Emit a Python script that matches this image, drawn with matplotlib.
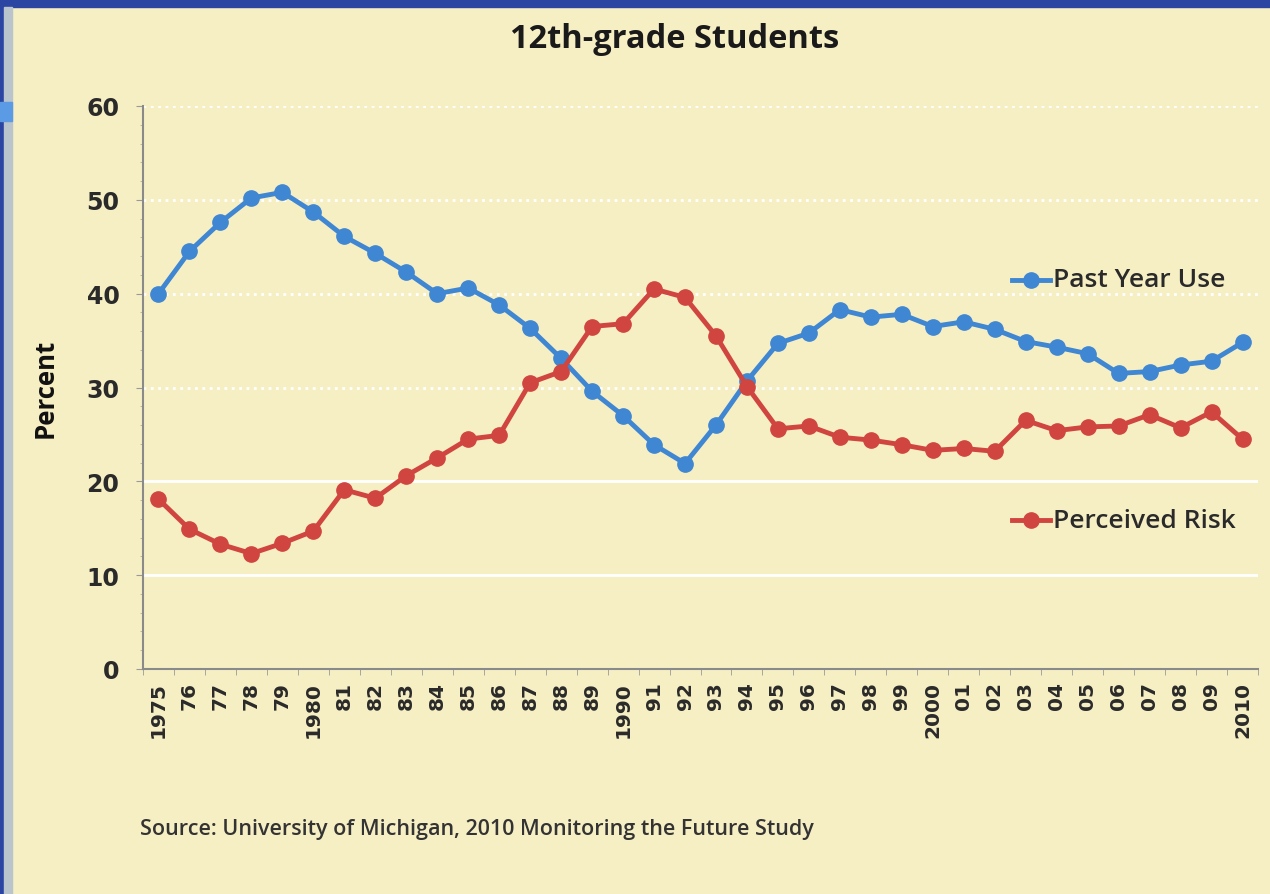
import numpy as np
import matplotlib
matplotlib.use("Agg")
import matplotlib.pyplot as plt
from matplotlib.patches import Rectangle
from matplotlib.lines import Line2D

# ---- data ----
years = list(range(1975, 2011))
year_labels = ['1975', '76', '77', '78', '79', '1980', '81', '82', '83', '84', '85', '86',
               '87', '88', '89', '1990', '91', '92', '93', '94', '95', '96', '97', '98',
               '99', '2000', '01', '02', '03', '04', '05', '06', '07', '08', '09', '2010']

past_year_use = [40.0, 44.5, 47.6, 50.2, 50.8, 48.7, 46.1, 44.3, 42.3, 40.0, 40.6, 38.8,
                 36.3, 33.1, 29.6, 27.0, 23.9, 21.9, 26.0, 30.7, 34.7, 35.8, 38.3, 37.5,
                 37.8, 36.5, 37.0, 36.2, 34.9, 34.3, 33.6, 31.5, 31.7, 32.4, 32.8, 34.8]

perceived_risk = [18.1, 14.9, 13.3, 12.3, 13.4, 14.7, 19.1, 18.2, 20.6, 22.5, 24.5, 24.9,
                  30.5, 31.7, 36.5, 36.8, 40.5, 39.6, 35.5, 30.1, 25.6, 25.9, 24.7, 24.4,
                  23.9, 23.3, 23.5, 23.2, 26.5, 25.4, 25.8, 25.9, 27.1, 25.7, 27.4, 24.5]

y_ticks = [0, 10, 20, 30, 40, 50, 60]

BG = '#f7efc4'
BLUE = '#3f86d3'
RED = '#d0453f'
TXT = '#2a2a2a'

plt.rcParams['font.family'] = ['Open Sans', 'DejaVu Sans']

fig = plt.figure(figsize=(12.7, 8.95), dpi=100)
fig.patch.set_facecolor(BG)

# slide frame bits (blue band on top, strip on the left)
fig.patches.append(Rectangle((0, 1 - 8 / 895), 1, 8 / 895, transform=fig.transFigure,
                             color='#2a46a2', zorder=5))
fig.patches.append(Rectangle((0, 0), 4 / 1270, 1, transform=fig.transFigure,
                             color='#2a46a2', zorder=5))
fig.patches.append(Rectangle((4 / 1270, 0), 8 / 1270, 1 - 8 / 895, transform=fig.transFigure,
                             color='#b9c4cc', zorder=5))
fig.patches.append(Rectangle((0, 1 - 122 / 895), 12 / 1270, 19 / 895, transform=fig.transFigure,
                             color='#5b9be6', zorder=6))

ax = fig.add_axes([143 / 1270, 1 - 670 / 895, (1258 - 143) / 1270, (670 - 107) / 895])
ax.set_facecolor(BG)

x = np.arange(len(years))

# grid: dotted for upper lines, solid for lower ones
for v in y_ticks[1:]:
    ls = '-' if v <= 20 else ':'
    ax.axhline(v, color='white', lw=2, ls=ls, zorder=1)

ax.plot(x, past_year_use, color=BLUE, lw=3.5, marker='o', ms=11, zorder=3)
ax.plot(x, perceived_risk, color=RED, lw=3.5, marker='o', ms=11, zorder=3)

ax.set_xlim(-0.4, len(years) - 0.5)
ax.set_ylim(0, 60)
ax.set_yticks(y_ticks)
ax.set_yticks(np.arange(0, 61, 2), minor=True)
ax.set_yticklabels([str(v) for v in y_ticks], fontsize=17, color=TXT,
                   family='DejaVu Sans', fontweight='bold')
ax.set_xticks(x)
ax.set_xticklabels(year_labels, rotation=90, fontsize=14.5, color=TXT, va='top',
                   family='DejaVu Sans', fontweight='bold')
ax.set_xticks(np.arange(-0.5, len(years), 1), minor=True)
ax.tick_params(axis='x', which='major', length=0, pad=9)
ax.tick_params(axis='x', which='minor', length=4, color='#999999')
ax.tick_params(axis='y', which='major', length=5, color='#999999', pad=12)
ax.tick_params(axis='y', which='minor', length=2, color='#aaaaaa')

for s in ['top', 'right']:
    ax.spines[s].set_visible(False)
for s in ['left', 'bottom']:
    ax.spines[s].set_color('#8a8a8a')
    ax.spines[s].set_linewidth(1.5)

ax.set_ylabel('Percent', fontsize=18.5, fontweight='bold', color='#111111', labelpad=20)

# legend entries drawn as labels beside the lines
for label, color, ypix in [('Past Year Use', BLUE, 281), ('Perceived Risk', RED, 521)]:
    yf = 1 - ypix / 895
    fig.add_artist(Line2D([1012 / 1270, 1050 / 1270], [yf, yf], color=color, lw=3.5,
                          transform=fig.transFigure))
    fig.add_artist(Line2D([1031 / 1270], [yf], color=color, marker='o', ms=11,
                          transform=fig.transFigure))
    fig.text(1053 / 1270, yf, label, fontsize=19, color=TXT, va='center', ha='left',
             fontweight='semibold')

fig.text(675 / 1270, 1 - 40 / 895, '12th-grade Students', fontsize=23.5, fontweight='bold',
         color='#1a1a1a', ha='center', va='center')
fig.text(140 / 1270, 1 - 830 / 895, 'Source: University of Michigan, 2010 Monitoring the Future Study',
         fontsize=15.5, color='#333333', ha='left', va='center', fontweight='semibold')

fig.savefig('out.png', dpi=100, facecolor=BG)
